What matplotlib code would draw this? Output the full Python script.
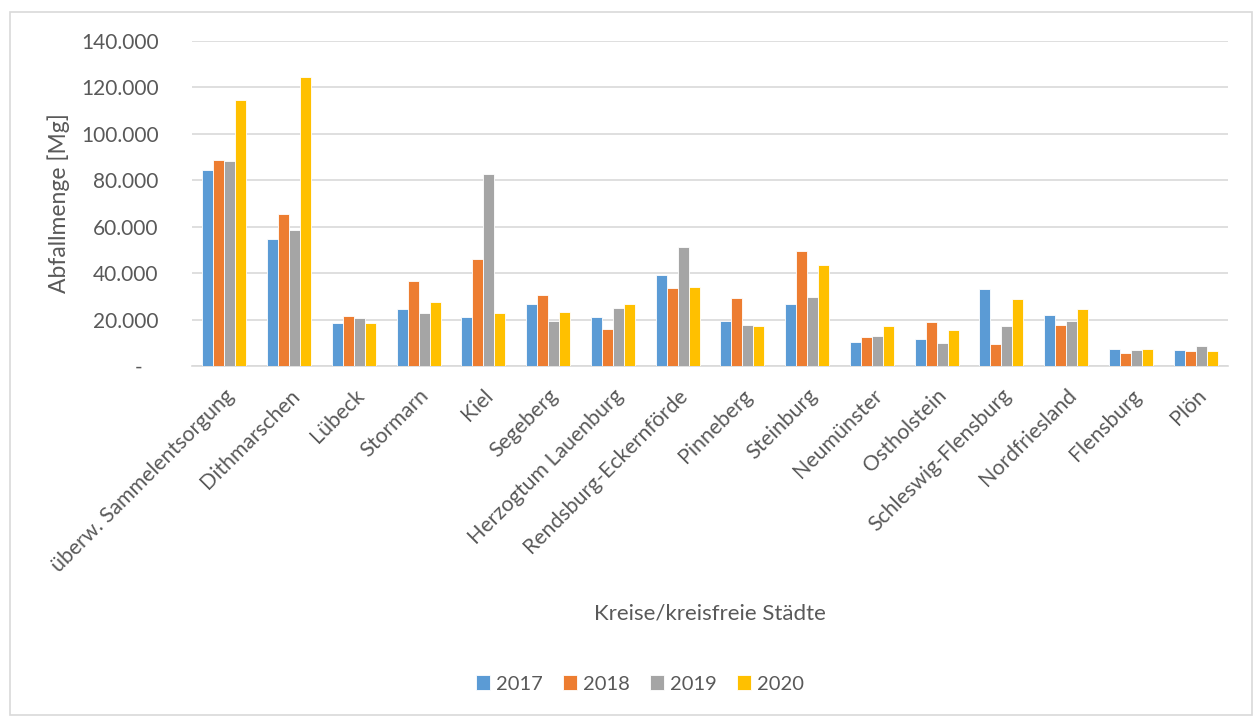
import matplotlib.pyplot as plt
import matplotlib.ticker as mticker
import numpy as np

plt.rcParams['font.family'] = ['Lato', 'DejaVu Sans']

kreise = ['überw. Sammelentsorgung', 'Dithmarschen', 'Lübeck', 'Stormarn', 'Kiel',
          'Segeberg', 'Herzogtum Lauenburg', 'Rendsburg-Eckernförde', 'Pinneberg',
          'Steinburg', 'Neumünster', 'Ostholstein', 'Schleswig-Flensburg',
          'Nordfriesland', 'Flensburg', 'Plön']
jahre = ['2017', '2018', '2019', '2020']

w2017 = [84300, 54700, 18700, 24500, 21200, 26500, 21200, 39000, 19300, 26900, 10200, 11700, 33200, 21900, 7200, 6800]
w2018 = [88900, 65300, 21400, 36500, 46200, 30800, 16000, 33800, 29400, 49600, 12500, 19100, 9400, 17700, 5600, 6500]
w2019 = [88300, 58700, 20700, 23000, 82700, 19300, 24900, 51100, 17700, 29800, 12800, 9900, 17100, 19300, 6800, 8600]
w2020 = [114400, 124300, 18700, 27500, 22900, 23300, 26800, 34200, 17400, 43700, 17300, 15500, 28900, 24500, 7300, 6300]

farben = ['#5B9BD5', '#ED7D31', '#A5A5A5', '#FFC000']

fig = plt.figure(figsize=(12.53, 7.16), dpi=100)
ax = fig.add_axes([192 / 1253, 1 - 366 / 716, (1228 - 192) / 1253, (366 - 41) / 716])

# Rahmen wie im Excel-Diagramm
fig.patches.append(plt.Rectangle((10 / 1253, 0.002), 1 - 11 / 1253, 1 - 12 / 716 - 0.002,
                                 transform=fig.transFigure, fill=False,
                                 edgecolor='#D9D9D9', linewidth=1.2))

x = np.arange(len(kreise))
breite = 0.17
for i, (werte, jahr) in enumerate(zip([w2017, w2018, w2019, w2020], jahre)):
    ax.bar(x + (i - 1.5) * breite, werte, breite, color=farben[i], label=jahr,
           edgecolor='white', linewidth=0.6, zorder=3)

ax.set_xlim(-0.5, len(kreise) - 0.5)
ax.set_ylim(0, 140000)
ax.yaxis.set_major_locator(mticker.MultipleLocator(20000))


def fmt(v, pos):
    if v == 0:
        return '-   '
    return f'{int(v):,}'.replace(',', '.')


ax.yaxis.set_major_formatter(mticker.FuncFormatter(fmt))
ax.grid(axis='y', color='#D9D9D9', linewidth=1.2, zorder=0)
for s in ['top', 'right', 'left']:
    ax.spines[s].set_visible(False)
ax.spines['bottom'].set_color('#D9D9D9')
ax.spines['bottom'].set_linewidth(1.2)
ax.tick_params(axis='both', length=0, colors='#595959')
ax.tick_params(axis='y', pad=24, labelsize=15)

ax.set_xticks(x)
ax.set_xticklabels(kreise, rotation=45, ha='right', rotation_mode='anchor')
ax.tick_params(axis='x', pad=14, labelsize=15.3)

ax.set_ylabel('Abfallmenge [Mg]', fontsize=16.5, color='#595959', labelpad=8)
fig.text(710 / 1253, 1 - 614 / 716, 'Kreise/kreisfreie Städte', fontsize=16,
         color='#595959', ha='center', va='center')

fig.legend(loc='center', bbox_to_anchor=(640 / 1253, 1 - 684 / 716), ncol=4,
           frameon=False, fontsize=14.5, handlelength=0.7, handleheight=0.7,
           handletextpad=0.3, columnspacing=1.0, labelcolor='#595959')

fig.savefig('out.png', dpi=100)
